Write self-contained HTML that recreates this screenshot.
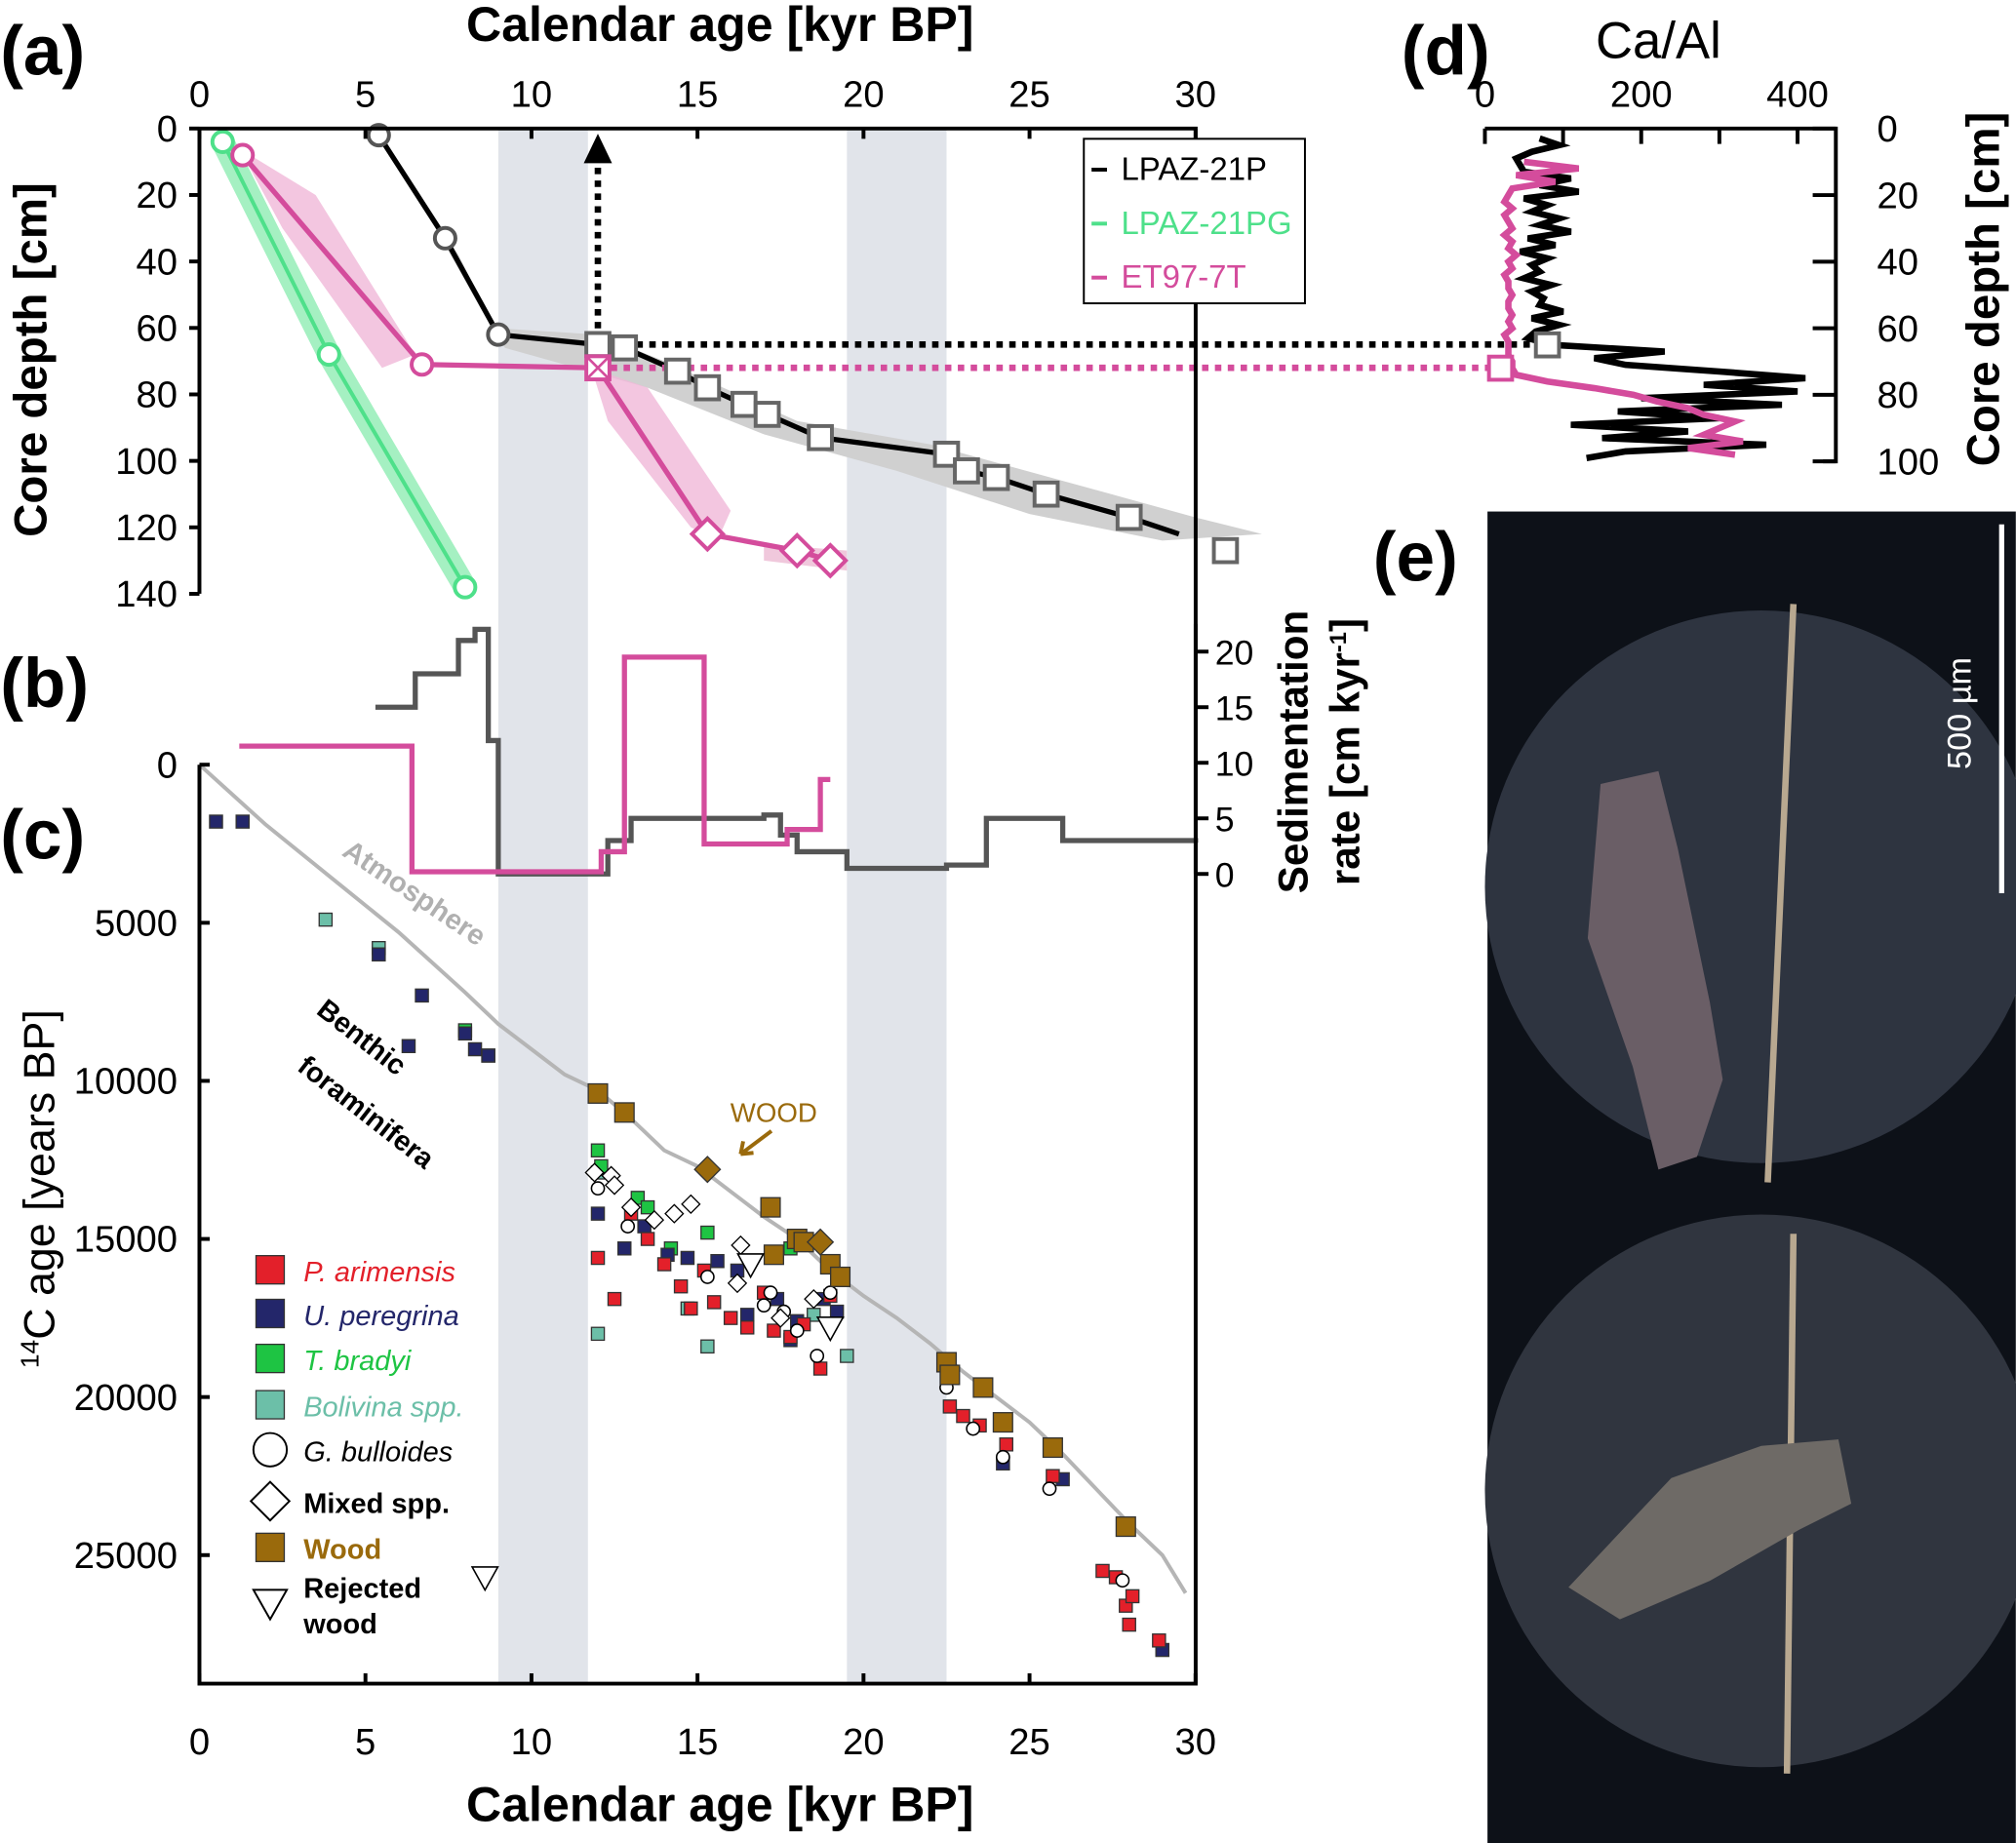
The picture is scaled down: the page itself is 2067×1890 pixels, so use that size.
<!DOCTYPE html>
<html><head><meta charset="utf-8"><style>
html,body{margin:0;padding:0;background:#fff;}
svg{display:block;font-family:"Liberation Sans",sans-serif;}
</style></head><body>
<svg id="fig" width="2067" height="1890" viewBox="0 0 1568 1434" xmlns="http://www.w3.org/2000/svg">
<g id="bands"></g><g id="env"></g><g id="plot"></g><g id="axes"></g>
</svg>
<script>
// ---------- data ----------
const ageTicks=[0,5,10,15,20,25,30];
const depthTicks=[0,20,40,60,80,100,120,140];
const c14Ticks=[0,5000,10000,15000,20000,25000];
const sedTicks=[0,5,10,15,20];
const caTicks=[0,200,400];
const caMinor=[100,300];
const dDepthTicks=[0,20,40,60,80,100];
const bandsKyr=[[9,11.7],[19.5,22.5]];
const p21Age=[5.4,7.4,9,12,12.8,14.4,15.3,16.4,17.1,18.7,22.5,23.1,24,25.5,28];
const p21Depth=[2,33,62,65,66,73,78,83,86,93,98,103,105,110,117];
const p21ExtraAge=[30.9], p21ExtraDepth=[127];
const pgAge=[0.7,3.9,8], pgDepth=[4,68,138];
const etAge=[1.3,6.7,12,15.3,18,19], etDepth=[8,71,72,122,127,130];
const sedGrayX=[5.3,6.5,7.8,8.3,8.7,9,12,12.3,13,17,17.5,18,19.5,22.5,23.7,26,30];
const sedGrayY=[15,18,21,22,12,0,0,3,5,5.3,3.5,2,0.5,0.8,5,3,2.8];
const sedPinkX=[1.2,6.4,12.1,12.8,15.2,17.7,18.7,19.0];
const sedPinkY=[11.5,0.2,2,19.5,2.7,4,8.5,8.5];
const atmX=[0,2,4,6,8,9,10,11,12,13,14,15,16,17,18,19,20,21,22,23,24,25,26,27,28,29,29.7];
const atmY=[0,1900,3600,5300,7200,8200,9000,9800,10300,11200,12200,12700,13500,14300,15000,16000,16800,17500,18300,19200,20000,20800,21800,22900,24000,25000,26200];
const redX=[12,12.5,13,13.5,14,14.5,14.8,15.2,15.5,16,16.5,17,17.3,17.8,18.2,18.7,19,22.6,23,23.5,24.3,25.7,27.2,27.6,27.9,28,28.1,28.9];
const redY=[15600,16900,14200,15000,15800,16500,17200,16000,17000,17500,17800,16700,17900,18100,17700,19100,16800,20300,20600,20900,21500,22500,25500,25700,26600,27200,26300,27700];
const navyX=[0.5,1.3,5.4,6.7,6.3,8,8.3,8.7,12,12.8,13.4,14.1,14.7,15.6,16.2,16.5,17.4,18,18.8,19.2,24.2,26,29,17.8];
const navyY=[1800,1800,6000,7300,8900,8500,9000,9200,14200,15300,14600,15500,15600,15700,16000,17400,16900,17600,16900,17300,22100,22600,28000,18200];
const greenX=[12,12.1,13.2,14.2,15.3,17.8,8,8.7,13.5];
const greenY=[12200,12700,13700,15300,14800,15300,8400,9200,14000];
const tealX=[3.8,5.4,12,12,15.3,14.7,19.5,18.5];
const tealY=[4900,5800,18000,12900,18400,17200,18700,17400];
const circX=[12,12.9,15.3,17.2,17.6,18,18.6,19,22.5,23.3,24.2,25.6,27.8,17];
const circY=[13400,14600,16200,16700,17300,17900,18700,16700,19700,21000,21900,22900,25800,17100];
const diaX=[11.9,12.4,13,13.7,14.3,14.8,16.3,16.2,17.5,18.5,12.5];
const diaY=[12900,13000,14000,14400,14200,13900,15200,16400,17500,16900,13300];
const woodX=[12,12.8,17.2,17.3,18,18.2,19,19.3,22.5,22.6,23.6,24.2,25.7,27.9];
const woodY=[10400,11000,14000,15500,15000,15100,15800,16200,18900,19300,19700,20800,21600,24100];
const woodDiaX=[15.3,18.7], woodDiaY=[12800,15100];
const rejX=[16.6,19.0,8.6], rejY=[15800,17800,25700];
const caDepthP21=[3,5,7,9,11,13,15,17,19,21,23,25,27,29,31,33,35,37,39,41,43,45,47,49,51,53,55,57,59,61,63,65,67,69,71,73,75,77,79,81,83,85,87,89,91,93,95,97,99];
const caP21=[70,95,60,40,45,50,110,70,120,50,80,60,95,70,110,55,90,45,80,60,70,50,85,60,75,70,100,60,95,65,55,87,230,140,180,300,410,280,400,200,380,170,300,110,260,150,360,180,130];
const caDepthET=[10,12,14,16,18,20,22,24,26,28,30,32,34,36,38,40,42,44,46,48,50,52,54,56,58,60,62,64,66,68,70,72,74,76,78,80,82,84,86,88,90,92,94,96,98];
const caET=[50,120,40,90,35,30,25,35,25,30,35,25,35,30,40,30,35,25,30,30,35,30,30,35,30,35,25,30,30,30,35,35,40,80,140,190,220,260,280,320,300,280,330,260,320];
// ---------- scales ----------
const X=k=>155+k*25.83;
const YD=d=>100+d*2.586;
const YC=a=>595+a*0.0246;
const YS=s=>680-s*8.65;
const XCa=v=>1155+v*0.608;
const YDd=d=>100+d*2.59;
const NS="http://www.w3.org/2000/svg";
function mk(parent,tag,attrs,name,text){const e=document.createElementNS(NS,tag);for(const k in attrs)e.setAttribute(k,attrs[k]);


if(text!==undefined)e.textContent=text;document.getElementById(parent).appendChild(e);return e;}
function poly(xs,ys,fx,fy){return xs.map((x,i)=>fx(x)+','+fy(ys[i])).join(' ');}
function stepPts(xs,ys,fx,fy){let p=[];for(let i=0;i<xs.length;i++){p.push(fx(xs[i])+','+fy(ys[i]));if(i<xs.length-1)p.push(fx(xs[i+1])+','+fy(ys[i]));}return p.join(' ');}
// bands
bandsKyr.forEach(b=>mk('bands','rect',{x:X(b[0]),y:100,width:X(b[1])-X(b[0]),height:1210,fill:'#e1e4ea'},'glacial-band'));
// envelopes
mk('env','polygon',{points:poly([5.2,7,8.8,12,14,18,22,26,30,32,29,25,21,17,13.5,9.2,7.8,5.8],[0,28,60,62,70,88,95,106,117,122,124,116,103,92,78,66,38,8],X,YD),fill:'#d0d0d0'},'p21-uncertainty-envelope');
mk('env','polygon',{points:poly([1.2,3.5,6.5,5.5,2.5],[6,20,68,72,30],X,YD),fill:'#f0b8d8',opacity:0.8},'et97-envelope-upper');
mk('env','polygon',{points:poly([11.8,13.5,16,15.6,14.8,12.3],[72,78,115,124,120,88],X,YD),fill:'#f0b8d8',opacity:0.8},'et97-envelope-lower');
mk('env','polygon',{points:poly([17,19.5,19.5,17],[125,127,133,130],X,YD),fill:'#f0c8dc'},'et97-envelope-tail');
mk('env','polyline',{points:poly(pgAge,pgDepth,X,YD),fill:'none',stroke:'#a5f0c2','stroke-width':18,'stroke-linecap':'round'},'pg-uncertainty-band');
// panel a lines
mk('plot','polyline',{points:poly(p21Age.concat([29.5]),p21Depth.concat([122]),X,YD),fill:'none',stroke:'#000','stroke-width':4},'lpaz-21p-line');
mk('plot','polyline',{points:poly(pgAge,pgDepth,X,YD),fill:'none',stroke:'#4ee08a','stroke-width':3},'lpaz-21pg-line');
mk('plot','polyline',{points:poly(etAge,etDepth,X,YD),fill:'none',stroke:'#d44c9c','stroke-width':4},'et97-7t-line');
// dotted connectors
mk('plot','line',{x1:X(12),y1:YD(64),x2:X(12),y2:125,stroke:'#000','stroke-width':5,'stroke-dasharray':'5,5'},'tie-arrow-shaft');
mk('plot','polygon',{points:`${X(12)-11},127 ${X(12)+11},127 ${X(12)},104`,fill:'#000'},'tie-arrow-head');
mk('plot','line',{x1:X(12),y1:YD(65),x2:XCa(80),y2:YD(65),stroke:'#000','stroke-width':5,'stroke-dasharray':'5,5'},'tie-line-black');
mk('plot','line',{x1:X(12),y1:YD(72),x2:XCa(20),y2:YD(72),stroke:'#d44c9c','stroke-width':5,'stroke-dasharray':'5,5'},'tie-line-pink');
// markers a
p21Age.forEach((a,i)=>{if(i<3)mk('plot','circle',{cx:X(a),cy:YD(p21Depth[i]),r:8,fill:'#fff',stroke:'#555','stroke-width':3},'p21-date-circle');else mk('plot','rect',{x:X(a)-9,y:YD(p21Depth[i])-9,width:18,height:18,fill:'#fff',stroke:'#666','stroke-width':3},'p21-date-square');});
p21ExtraAge.forEach((a,i)=>mk('plot','rect',{x:X(a)-9,y:YD(p21ExtraDepth[i])-9,width:18,height:18,fill:'#fff',stroke:'#666','stroke-width':3},'p21-outlier-square'));
pgAge.forEach((a,i)=>mk('plot','circle',{cx:X(a),cy:YD(pgDepth[i]),r:8,fill:'#fff',stroke:'#4ee08a','stroke-width':3},'pg-date-circle'));
etAge.forEach((a,i)=>{const cx=X(a),cy=YD(etDepth[i]);if(i<2)mk('plot','circle',{cx,cy,r:8,fill:'#fff',stroke:'#d44c9c','stroke-width':3},'et-date-circle');else if(i==2){mk('plot','rect',{x:cx-9,y:cy-9,width:18,height:18,fill:'#fff',stroke:'#d44c9c','stroke-width':3},'et-crossed-square');mk('plot','path',{d:`M${cx-9},${cy-9}L${cx+9},${cy+9}M${cx+9},${cy-9}L${cx-9},${cy+9}`,stroke:'#d44c9c','stroke-width':2},'et-cross');}else mk('plot','polygon',{points:`${cx},${cy-12} ${cx+12},${cy} ${cx},${cy+12} ${cx-12},${cy}`,fill:'#fff',stroke:'#d44c9c','stroke-width':3},'et-date-diamond');});
// panel b
mk('plot','polyline',{points:stepPts(sedGrayX,sedGrayY,X,YS),fill:'none',stroke:'#555','stroke-width':4},'sed-rate-p21');
mk('plot','polyline',{points:stepPts(sedPinkX,sedPinkY,X,YS),fill:'none',stroke:'#d44c9c','stroke-width':4},'sed-rate-et97');
// panel c
mk('plot','polyline',{points:poly(atmX,atmY,X,YC),fill:'none',stroke:'#b5b5b5','stroke-width':3},'atmosphere-curve');
function sq(xs,ys,fill,name,s){xs.forEach((x,i)=>mk('plot','rect',{x:X(x)-s/2,y:YC(ys[i])-s/2,width:s,height:s,fill,stroke:'#333','stroke-width':1},name));}
sq(tealX,tealY,'#6cbfa8','bolivina-point',10);
sq(greenX,greenY,'#1ec443','t-bradyi-point',10);
sq(navyX,navyY,'#23266a','u-peregrina-point',10);
sq(redX,redY,'#e3202a','p-arimensis-point',10);
circX.forEach((x,i)=>mk('plot','circle',{cx:X(x),cy:YC(circY[i]),r:5,fill:'#fff',stroke:'#000','stroke-width':1.2},'g-bulloides-point'));
diaX.forEach((x,i)=>{const cx=X(x),cy=YC(diaY[i]);mk('plot','polygon',{points:`${cx},${cy-7} ${cx+7},${cy} ${cx},${cy+7} ${cx-7},${cy}`,fill:'#fff',stroke:'#000','stroke-width':1},'mixed-spp-point');});
sq(woodX,woodY,'#9a6a0c','wood-point',15);
woodDiaX.forEach((x,i)=>{const cx=X(x),cy=YC(woodDiaY[i]);mk('plot','polygon',{points:`${cx},${cy-10} ${cx+10},${cy} ${cx},${cy+10} ${cx-10},${cy}`,fill:'#9a6a0c',stroke:'#333','stroke-width':1},'wood-diamond-point');});
rejX.forEach((x,i)=>{const cx=X(x),cy=YC(rejY[i]);mk('plot','polygon',{points:`${cx-10},${cy-8} ${cx+10},${cy-8} ${cx},${cy+10}`,fill:'#fff',stroke:'#000','stroke-width':1.2},'rejected-wood-point');});
// panel d
mk('plot','polyline',{points:poly(caP21,caDepthP21,XCa,YDd),fill:'none',stroke:'#000','stroke-width':5},'ca-al-p21');
mk('plot','polyline',{points:poly(caET,caDepthET,XCa,YDd),fill:'none',stroke:'#d44c9c','stroke-width':5},'ca-al-et97');
mk('plot','rect',{x:XCa(80)-9,y:YDd(65)-9,width:18,height:18,fill:'#fff',stroke:'#666','stroke-width':3},'ca-p21-tie-square');
mk('plot','rect',{x:XCa(20)-9,y:YDd(72)-9,width:18,height:18,fill:'#fff',stroke:'#d44c9c','stroke-width':3},'ca-et-tie-square');
// ---------- axes ----------
const A='axes';
mk(A,'path',{d:'M155,100H930V1310H155V595M155,462V100',fill:'none',stroke:'#000','stroke-width':3},'plot-frame');
ageTicks.forEach(t=>{mk(A,'line',{x1:X(t),y1:100,x2:X(t),y2:108,stroke:'#000','stroke-width':3},'top-age-tick');mk(A,'text',{x:X(t),y:83,'text-anchor':'middle','font-size':29},'top-age-label',t);
mk(A,'line',{x1:X(t),y1:1310,x2:X(t),y2:1302,stroke:'#000','stroke-width':3},'bottom-age-tick');mk(A,'text',{x:X(t),y:1365,'text-anchor':'middle','font-size':29},'bottom-age-label',t);});
depthTicks.forEach(t=>{mk(A,'line',{x1:147,y1:YD(t),x2:155,y2:YD(t),stroke:'#000','stroke-width':3},'depth-tick');mk(A,'text',{x:138,y:YD(t)+10,'text-anchor':'end','font-size':29},'depth-label',t);});
c14Ticks.forEach(t=>{mk(A,'line',{x1:155,y1:YC(t),x2:163,y2:YC(t),stroke:'#000','stroke-width':3},'c14-tick');mk(A,'text',{x:138,y:YC(t)+10,'text-anchor':'end','font-size':29},'c14-label',t);});
sedTicks.forEach(t=>{mk(A,'line',{x1:930,y1:YS(t),x2:940,y2:YS(t),stroke:'#000','stroke-width':3},'sed-tick');mk(A,'text',{x:945,y:YS(t)+10,'font-size':27},'sed-label',t);});
mk(A,'line',{x1:930,y1:YS(22.5),x2:930,y2:YS(0),stroke:'#000','stroke-width':3},'sed-axis');
// d axes
mk(A,'path',{d:`M1155,100H1428V${YDd(100)}H1418`,fill:'none',stroke:'#000','stroke-width':3},'ca-frame');
caTicks.concat(caMinor).forEach(t=>mk(A,'line',{x1:XCa(t),y1:100,x2:XCa(t),y2:112,stroke:'#000','stroke-width':3},'ca-tick'));
caTicks.forEach(t=>mk(A,'text',{x:XCa(t),y:83,'text-anchor':'middle','font-size':29},'ca-label',t));
dDepthTicks.forEach(t=>{mk(A,'line',{x1:1410,y1:YDd(t),x2:1428,y2:YDd(t),stroke:'#000','stroke-width':3},'d-depth-tick');mk(A,'text',{x:1460,y:YDd(t)+10,'font-size':29},'d-depth-label',t);});
// titles
mk(A,'text',{x:560,y:32,'text-anchor':'middle','font-size':38,'font-weight':'bold'},'top-x-title','Calendar age [kyr BP]');
mk(A,'text',{x:560,y:1417,'text-anchor':'middle','font-size':38,'font-weight':'bold'},'bottom-x-title','Calendar age [kyr BP]');
mk(A,'text',{x:1290,y:45,'text-anchor':'middle','font-size':40},'ca-al-title','Ca/Al');
mk(A,'text',{x:0,y:0,'text-anchor':'middle','font-size':36,'font-weight':'bold',transform:'translate(36,280) rotate(-90)'},'depth-y-title','Core depth [cm]');
mk(A,'text',{x:0,y:0,'text-anchor':'middle','font-size':36,'font-weight':'bold',transform:'translate(1555,225) rotate(-90)'},'right-depth-title','Core depth [cm]');
const t14=mk(A,'text',{x:0,y:0,'text-anchor':'middle','font-size':34,transform:'translate(42,925) rotate(-90)'},'c14-y-title','');
t14.innerHTML='<tspan font-size="20" dy="-12">14</tspan><tspan dy="12">C age [years BP]</tspan>';
mk(A,'text',{x:0,y:0,'text-anchor':'middle','font-size':32,'font-weight':'bold',transform:'translate(1017,585) rotate(-90)'},'sed-title-1','Sedimentation');
const st=mk(A,'text',{x:0,y:0,'text-anchor':'middle','font-size':32,'font-weight':'bold',transform:'translate(1057,585) rotate(-90)'},'sed-title-2','');
st.innerHTML='rate [cm kyr<tspan font-size="18" dy="-10">-1</tspan><tspan dy="10">]</tspan>';
[['(a)',0,58],['(b)',0,550],['(c)',0,668],['(d)',1090,58],['(e)',1068,452]].forEach(p=>mk(A,'text',{x:p[1],y:p[2],'font-size':54,'font-weight':'bold'},'panel-label',p[0]));
// legend a
mk(A,'rect',{x:843,y:108,width:172,height:128,fill:'#fff',stroke:'#000','stroke-width':1.5},'legend-box');
[['LPAZ-21P','#000',140],['LPAZ-21PG','#4ee08a',182],['ET97-7T','#d44c9c',224]].forEach(l=>{mk(A,'line',{x1:849,y1:l[2]-8,x2:861,y2:l[2]-8,stroke:l[1],'stroke-width':3},'legend-line');mk(A,'text',{x:872,y:l[2],'font-size':25,fill:l[1]},'legend-entry',l[0]);});
// annotations
mk(A,'text',{x:0,y:0,'font-size':22,'font-weight':'bold',fill:'#b0b0b0',transform:'translate(265,665) rotate(34)'},'atmosphere-label','Atmosphere');
mk(A,'text',{x:0,y:0,'font-size':22,'font-weight':'bold',transform:'translate(245,788) rotate(38)'},'benthic-label','Benthic');
mk(A,'text',{x:0,y:0,'font-size':22,'font-weight':'bold',transform:'translate(230,832) rotate(38)'},'foraminifera-label','foraminifera');
mk(A,'text',{x:568,y:873,'font-size':21,fill:'#9a6a0c'},'wood-annotation','WOOD');
mk(A,'path',{d:'M600,880L576,898M576,898l2,-10M576,898l10,-1',stroke:'#9a6a0c','stroke-width':3,fill:'none'},'wood-arrow');
// legend c
const lg=[['P. arimensis','#e3202a',988,'sq','#e3202a',1],['U. peregrina','#23266a',1022,'sq','#23266a',1],['T. bradyi','#1ec443',1057,'sq','#1ec443',1],['Bolivina spp.','#6cbfa8',1093,'sq','#6cbfa8',1],['G. bulloides','#fff',1128,'ci','#000',1],['Mixed spp.','#fff',1168,'di','#000',0],['Wood','#9a6a0c',1204,'sq','#9a6a0c',0]];
lg.forEach(l=>{const cx=210,cy=l[2];if(l[3]=='sq')mk(A,'rect',{x:cx-11,y:cy-11,width:22,height:22,fill:l[1],stroke:'#333'},'legend-marker');else if(l[3]=='ci')mk(A,'circle',{cx,cy,r:13,fill:'#fff',stroke:'#000','stroke-width':1.5},'legend-marker');else mk(A,'polygon',{points:`${cx},${cy-15} ${cx+15},${cy} ${cx},${cy+15} ${cx-15},${cy}`,fill:'#fff',stroke:'#000','stroke-width':1.5},'legend-marker');
mk(A,'text',{x:236,y:cy+9,'font-size':22,fill:l[4],'font-style':l[5]?'italic':'normal','font-weight':l[5]?'normal':'bold'},'legend-entry',l[0]);});
mk(A,'polygon',{points:'197,1237 223,1237 210,1260',fill:'#fff',stroke:'#000','stroke-width':1.5},'legend-marker');
mk(A,'text',{x:236,y:1243,'font-size':22,'font-weight':'bold'},'legend-entry','Rejected');
mk(A,'text',{x:236,y:1271,'font-size':22,'font-weight':'bold'},'legend-entry','wood');
// panel e photo
mk(A,'rect',{x:1157,y:398,width:411,height:1036,fill:'#0d1118'},'micrograph-background');
mk(A,'circle',{cx:1370,cy:690,r:215,fill:'#2e3440'},'micrograph-top');
mk(A,'circle',{cx:1370,cy:1160,r:215,fill:'#30353f'},'micrograph-bottom');
mk(A,'line',{x1:1395,y1:470,x2:1375,y2:920,stroke:'#b8a890','stroke-width':5},'grid-line-top');
mk(A,'line',{x1:1395,y1:960,x2:1390,y2:1380,stroke:'#b8a890','stroke-width':5},'grid-line-bottom');
mk(A,'path',{d:'M1245,610L1290,600L1305,660L1330,780L1340,840L1320,900L1290,910L1270,830L1235,730Z',fill:'#6a5e66'},'wood-fragment-top');
mk(A,'path',{d:'M1220,1235L1300,1150L1370,1125L1430,1120L1440,1170L1400,1190L1330,1230L1260,1260Z',fill:'#6e6a66'},'wood-fragment-bottom');
mk(A,'line',{x1:1557,y1:408,x2:1557,y2:695,stroke:'#fff','stroke-width':4},'scale-bar');
mk(A,'text',{x:0,y:0,'font-size':26,fill:'#fff','text-anchor':'middle',transform:'translate(1533,555) rotate(-90)'},'scale-bar-label','500 µm');
</script>
</body></html>
